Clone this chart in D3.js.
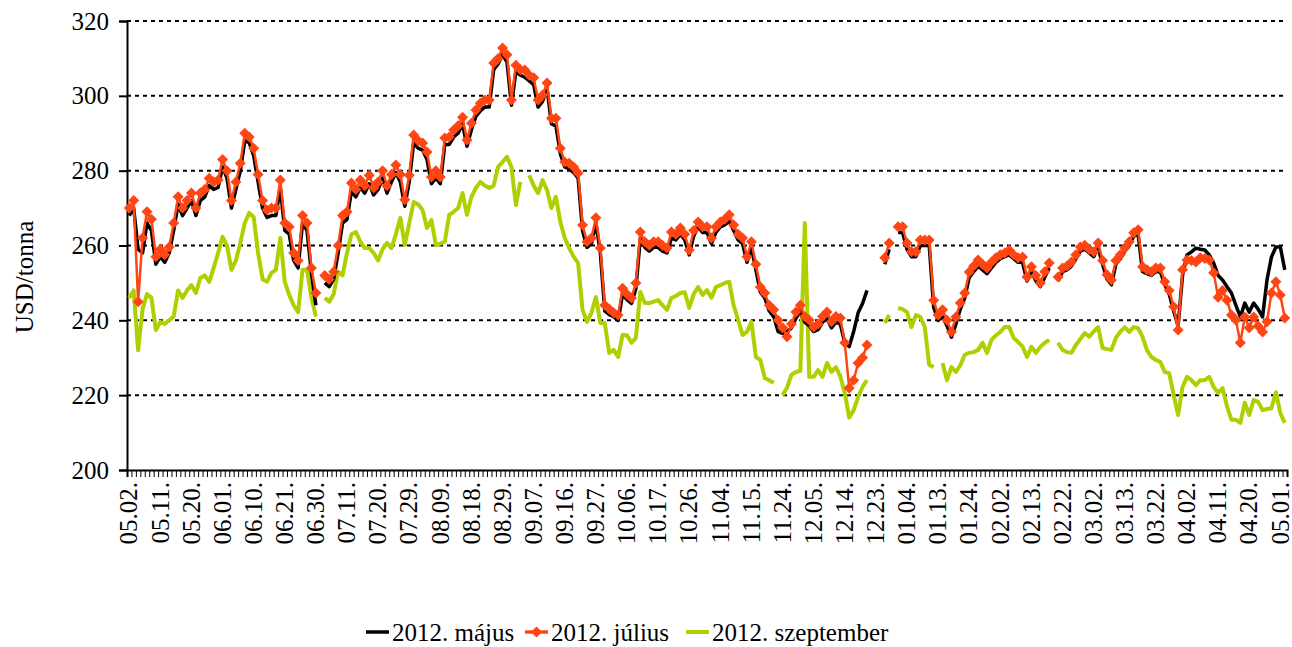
<!DOCTYPE html>
<html>
<head>
<meta charset="utf-8">
<script src="https://cdn.jsdelivr.net/npm/d3@7"></script>
<style>
  body { margin: 0; background: #fff; }
  svg text { font-family: "Liberation Serif", "Times New Roman", serif; fill: #000; }
</style>
</head>
<body>
<svg class="chart" width="1292" height="647"></svg>
<script>
// tick labels, one every 7 trading days
var tickLabels = ["05.02.","05.11.","05.20.","06.01.","06.10.","06.21.","06.30.","07.11.","07.20.","07.29.",
  "08.09.","08.18.","08.29.","09.07.","09.16.","09.27.","10.06.","10.17.","10.26.","11.04.",
  "11.15.","11.24.","12.05.","12.14.","12.23.","01.04.","01.13.","01.24.","02.02.","02.13.",
  "02.22.","03.02.","03.13.","03.22.","04.02.","04.11.","04.20.","05.01."];
var tickEvery = 7;
var seriesNames = ["2012. május", "2012. július", "2012. szeptember"];
var yTicks = [200, 220, 240, 260, 280, 300, 320];

// 2012. május (USD/tonna)
var majus = [
  268,270,259,258,266,264,255,257,255.5,258,
  264,271,268,270,272,268,272,273,276,275,
  275.5,281,278,270,275,280,288,287.5,284,277,
  270,267.5,268,268,275.5,264,263,256,254,266,
  264,252.5,244,null,250,249,251,258,266,267,
  274.5,273,275.5,274,276.5,273.5,275,278,274,277,
  279.5,277,270.5,277,287.5,286,285.5,283,276.5,278,
  276.5,287,287,289,290,292.5,286.5,291,294.5,296,
  297,297,307,308.5,311,309,297.5,306.5,305.5,305,
  304,303,297,298.5,302,292.5,292,284.5,281,280.5,
  279.5,278,264,259.5,260.5,266,258,242.5,241.5,241,
  240,247,245.5,244.5,248.5,262,259.5,258.5,259.5,259.5,
  258.5,258,262,261.5,263,261.5,257.5,262.5,265,263.5,
  263.5,260.5,263.5,265,265.5,266.5,264,261.5,260.5,255.5,
  259.5,253.5,247.5,246,242.5,241,237,236.5,237,238,
  240.5,242.5,239.5,238.5,237,237.5,239.5,240.5,238,239.5,
  239,234,233,237,242,244.5,248,null,null,null,
  255,259,null,263.5,263.5,259,257,257,260,260,
  260,243.5,240,241,238.5,235.5,239,243,246,251.5,
  253,254.5,253.5,252.5,254,255.5,256.5,257,257.5,256.5,
  255.5,255.5,250.5,253,250.5,249,251.5,254,null,250.5,
  253,253.5,254.5,256.5,258.5,259,258,257,259.5,255,
  251,249.5,255,256.5,258.5,260,262.5,263,253,252.5,
  252,253,253,249.5,247,242.5,238.5,252,257.5,258.3,
  259.3,259,258.8,257.5,255.3,252,250.8,249,247.3,244,
  240.9,244.6,242.2,244.6,243,240.9,250.8,256.9,259.6,259.6,
  253.5
];

// 2012. július
var julius = [
  270,272,245,262,269,267,257,259,257.5,259.6,
  266,273,270,272,274,270,274,275,278,277,
  277.5,283,280,272,277,282,290,289,286,279,
  272,269.5,270,270,277.5,266,265,258,256,268,
  266,254,247.3,null,252,251,253,260,268,269,
  276.7,275,277.5,276,278.8,275.4,277,280,276,279,
  281.5,279,272.2,278.8,289.5,288,287.4,285,278.3,280,
  278.3,288.7,289,290.9,292,294.3,288.2,292.7,296.2,298,
  298.9,298.9,308.8,310,312.8,311,298.9,308.2,307,306.9,
  305.5,304.8,298.9,300.2,303.4,294,294,286,282.3,282,
  281,279.4,265.5,261,262,267.4,259.3,244,243,242,
  241.4,248.6,247,246,250,263.6,261,260.1,261,261,
  260,259.3,263.6,263,264.7,263,258.8,264,266.3,265,
  265,262,265,266.3,267,268.2,265.5,263,262,257,
  261,255,248.9,247.3,244,242.8,240,238,235.6,239,
  242.2,244,241,240.1,238.2,239,241,242.2,239.6,241,
  240.6,234,221.9,224,228.6,230,233.4,null,null,null,
  256.7,260.7,null,265,265,260.7,258.3,258.3,261.5,261.5,
  261.5,245.4,241.4,242.8,240,236.9,240.9,244.6,247.3,252.9,
  254.5,256.1,255,254,255.5,256.7,257.5,258,258.8,257.5,
  256.7,256.9,251.6,254.3,252,250,253,255.3,null,251.6,
  254,254.5,255.6,257.5,259.6,260.1,259,258.3,260.7,256,
  252.2,250.8,256,257.5,259.3,261,263.4,264.2,254.3,253.5,
  253,254,254,250.3,248,243.6,237.4,253.5,256.1,256,
  255.6,256.7,256.5,256.1,252.7,246.2,248,245.4,241.4,240.1,
  234,240.9,238,240.9,238.5,236.9,239.6,247.3,250.3,246.8,
  240.6
];

// 2012. szeptember
var szeptember = [
  246,248,232,243,247,246,237.4,239.6,239,240,
  241,248,246,248,249.4,247.3,251.3,252,250.3,254,
  258,262.3,260,253.5,256,260.7,266,268.7,267.6,258,
  251,250.3,252.7,253.5,262,250.3,246.8,244,242.2,253.5,
  253.5,246,241,null,246,245,247,253,252,258,
  263,263.6,261,259.3,259.3,258,256,259,260.7,259.3,
  263,267.4,260.1,266,271.6,271,269.5,264.7,266.8,260.1,
  260.5,261,268.2,269,270,274,268.2,273,275.4,277,
  276,275.4,276,281,282.3,283.7,281,270.8,277,null,
  278.8,276,274,277.5,274.8,270,273,266.3,262,259.3,
  257,255.3,242.8,239.6,242,246.2,239.3,239.3,231.3,232.1,
  230.2,236.1,236,234,235.3,247.6,244.6,244.6,245,245.4,
  244,242.8,246,246.5,247.3,247.5,243.3,247,248.9,246.8,
  248.1,246,248.9,249.4,250,250.3,244,240.1,236.1,237,
  239.6,230.2,229.4,224.6,224,223.3,null,220,222,225.4,
  226.2,226.5,266,224.9,224.9,226.7,224.9,228.6,226.2,227.5,
  225,220.6,214,216,219.5,222.2,224,null,null,null,
  239.3,241.4,null,243.3,243,242.2,238.2,241.4,240.9,238.2,
  228.1,227.5,null,228.6,224,227.5,226.2,228,230.8,231.3,
  231.5,232.1,234,231.3,234.8,236,236.9,238.2,238.2,235.3,
  234.2,233,230.2,232.9,231.3,232.9,234,234.8,null,234,
  232.1,231.5,231.3,233.4,235,236.6,235.6,237,238.2,232.6,
  232.3,232.1,235.3,237,238.2,236.9,238.2,237.9,235.6,232,
  230.2,229.4,228.9,226.2,225.9,220,214.7,222.2,224.9,224,
  222.7,224,224,224.9,222.2,220.6,221.9,217,213.4,213.4,
  212.6,218,214.7,218.7,218.2,216,216.3,216.5,220.8,215.2,
  212.6
];

var N = julius.length;
var m = {top: 21, right: 5, bottom: 177, left: 127},
  w = 1292 - m.left - m.right,
  h = 647 - m.top - m.bottom;

var svg = d3.select('.chart');
var g = svg.append('g').attr('transform', 'translate(' + m.left + ',' + m.top + ')');

var x = d3.scaleBand().domain(d3.range(N)).range([0, w]).padding(0);
var xb = d3.scaleLinear().domain([0, N]).range([0, w]);
var y = d3.scaleLinear().domain([200, 320]).range([h, 0]);
function cx(i) { return x(i) + x.bandwidth() / 2; }

// dotted grid
g.append('g').selectAll('line')
  .data(yTicks.filter(function(d) { return d > 200; }))
  .enter().append('line')
  .attr('x1', 0).attr('x2', w)
  .attr('y1', function(d) { return y(d); }).attr('y2', function(d) { return y(d); })
  .attr('stroke', '#000').attr('stroke-width', 2).attr('stroke-dasharray', '4,4');

// y axis
var yAxis = g.append('g').call(d3.axisLeft(y).tickValues(yTicks).tickSize(8).tickPadding(10));
yAxis.select('.domain').attr('stroke-width', 2);
yAxis.selectAll('.tick line').attr('stroke-width', 2);
yAxis.selectAll('text').style('font-size', '25px').attr('font-family', null);

// x axis: a tick at every category boundary
var xAxis = g.append('g').attr('transform', 'translate(0,' + h + ')')
  .call(d3.axisBottom(xb).tickValues(d3.range(N + 1)).tickSize(7).tickFormat(''));
xAxis.select('.domain').attr('stroke-width', 2);
xAxis.selectAll('.tick line').attr('stroke-width', 1);

g.append('g').selectAll('text')
  .data(tickLabels)
  .enter().append('text')
  .attr('transform', function(d, i) { return 'translate(' + cx(i * tickEvery) + ',' + (h + 12) + ') rotate(-90)'; })
  .attr('text-anchor', 'end')
  .attr('dy', '0.33em')
  .style('font-size', '25px')
  .text(function(d) { return d; });

// y label
svg.append('text')
  .attr('transform', 'translate(24,277) rotate(-90)')
  .attr('text-anchor', 'middle')
  .attr('dy', '0.35em')
  .style('font-size', '25px')
  .text('USD/tonna');

var line = d3.line()
  .defined(function(d) { return d != null; })
  .x(function(d, i) { return cx(i); })
  .y(function(d) { return y(d); });

var colors = ['#000000', '#FF4513', '#AECF00'];

g.append('path').datum(szeptember)
  .attr('fill', 'none').attr('stroke', colors[2]).attr('stroke-width', 4)
  .attr('stroke-linejoin', 'round').attr('d', line);
g.append('path').datum(majus)
  .attr('fill', 'none').attr('stroke', colors[0]).attr('stroke-width', 3.5)
  .attr('stroke-linejoin', 'round').attr('d', line);
g.append('path').datum(julius)
  .attr('fill', 'none').attr('stroke', colors[1]).attr('stroke-width', 2.5)
  .attr('stroke-linejoin', 'round').attr('d', line);

var diamond = 'M0,-5.5L5.5,0L0,5.5L-5.5,0Z';
g.append('g').selectAll('path')
  .data(julius.map(function(v, i) { return {v: v, i: i}; }).filter(function(d) { return d.v != null; }))
  .enter().append('path')
  .attr('d', diamond)
  .attr('transform', function(d) { return 'translate(' + cx(d.i) + ',' + y(d.v) + ')'; })
  .attr('fill', colors[1]);

// legend
var legendX = [366, 525, 686];
var legend = svg.append('g').attr('class', 'legend');
seriesNames.forEach(function(name, k) {
  var lg = legend.append('g').attr('transform', 'translate(' + legendX[k] + ',632)');
  lg.append('line').attr('x1', 0).attr('x2', 23).attr('y1', 0).attr('y2', 0)
    .attr('stroke', colors[k]).attr('stroke-width', k == 2 ? 4 : 3.5);
  if (k == 1) lg.append('path').attr('d', diamond).attr('transform', 'translate(11.5,0)').attr('fill', colors[1]);
  lg.append('text').attr('x', 26).attr('dy', '0.35em').style('font-size', '25px').text(name);
});
</script>
</body>
</html>
